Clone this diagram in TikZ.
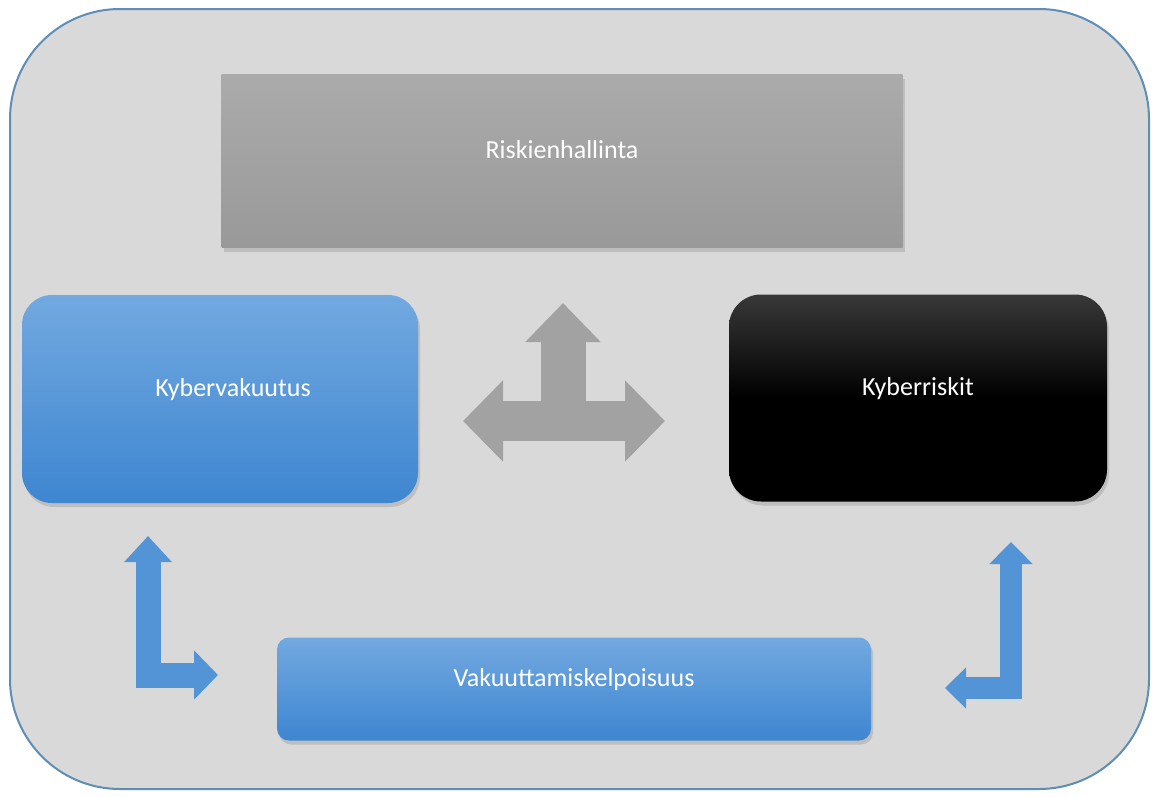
\documentclass[tikz,border=0pt]{standalone}
\usepackage{fontspec}
\setmainfont{Carlito}
\usetikzlibrary{positioning,arrows.meta,shadows}

\definecolor{framefill}{HTML}{D9D9D9}
\definecolor{frameline}{HTML}{5E8DB5}
\definecolor{greytop}{HTML}{ABABAB}
\definecolor{greybot}{HTML}{999999}
\definecolor{bluetop}{HTML}{72A9E0}
\definecolor{bluebot}{HTML}{3E86D1}
\definecolor{arrowgrey}{HTML}{A2A2A2}
\definecolor{arrowblue}{HTML}{5394D6}

\begin{document}
\begin{tikzpicture}[x=1pt,y=-1pt,font=\fontsize{26}{30}\selectfont,
  box/.style={text=white,align=center,inner sep=0pt,text height=20pt,text depth=26pt,drop shadow={opacity=0.3,shadow xshift=2pt,shadow yshift=-4pt}},
  greybox/.style={box,top color=greytop,bottom color=greybot},
  bluebox/.style={box,top color=bluetop,bottom color=bluebot},
  blackbox/.style={box,top color=black!78,bottom color=black,middle color=black},
  bigarrow/.style={draw=arrowgrey,line join=miter},
  bluearrow/.style={draw=arrowblue,line join=miter}]
\useasboundingbox (0,0) rectangle (1154,796);
\draw[fill=framefill,draw=frameline,line width=2pt,rounded corners=110pt] (10,9) rectangle (1149,789);

\node[greybox,minimum width=681pt,minimum height=173pt] (risk) at (562,161) {Riskienhallinta};
\node[bluebox,rounded corners=30pt,minimum width=396pt,minimum height=208pt] (kvak) at (220,399) {\hspace*{26pt}Kybervakuutus};
\node[blackbox,rounded corners=32pt,minimum width=378pt,minimum height=207pt] (kris) at (918,398) {Kyberriskit};
\node[bluebox,rounded corners=12pt,minimum width=594pt,minimum height=103pt] (vkel) at (574,689) {Vakuuttamiskelpoisuus};

% arrow ends
\coordinate (mid) at (563,421);
\coordinate (up) at (563,303);
\coordinate (lt) at (463,421);
\coordinate (rt) at (665,421);
\coordinate (kvakend) at (148,536);
\coordinate (vkelleft) at (218,675);
\coordinate (krisend) at (1011,542);
\coordinate (vkelright) at (945,688);

\draw[bigarrow,line width=45pt,-{Triangle[length=39pt,width=73pt]}] (mid) -- (up);
\draw[bigarrow,line width=40pt,{Triangle[length=40pt,width=79pt]}-{Triangle[length=40pt,width=79pt]}] (lt) -- (rt);
\draw[bluearrow,line width=25pt,{Triangle[length=26pt,width=46pt]}-{Triangle[length=24pt,width=48pt]}] (kvakend) |- (vkelleft);
\draw[bluearrow,line width=22pt,{Triangle[length=22pt,width=42pt]}-{Triangle[length=21pt,width=40pt]}] (krisend) |- (vkelright);
\end{tikzpicture}
\end{document}
